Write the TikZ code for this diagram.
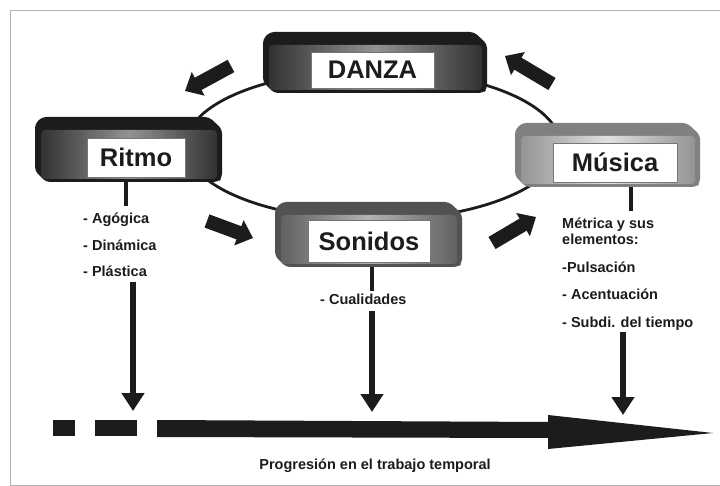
\documentclass[tikz,border=0pt]{standalone}
\usepackage{fontspec}
\setmainfont{Liberation Sans}
\usetikzlibrary{arrows.meta}
\definecolor{ink}{HTML}{1C1C1C}
\colorlet{bxtop}{black}
\colorlet{bxside}{black}
\colorlet{bxmid}{gray}
\newcommand\bevelbox[9]{%
  \fill[bxtop, rounded corners=4pt] (#2,#3+7) -- (#2,#5-11) -- (#2+11,#5) -- (#4-4,#5) -- (#4,#5-4) -- (#4,#3+12) -- (#4-13,#3) -- (#2+7,#3) -- cycle;
  \shade[rounded corners=4pt, left color=bxside, right color=bxside, middle color=bxmid] (#2+6,#3+13) rectangle (#4-5,#5-3);
  \node[boxlabel, minimum width={(#8-#6)*1pt}, minimum height={(#5-5-#7)*1pt}] (#1) at ({(#6+#8)/2},{(#7+#5-5)/2}) {#9};
}
\begin{document}
\begin{tikzpicture}[x=1pt,y=-1pt,
  boxlabel/.style={fill=white, draw=ink!60, line width=0.6pt, inner sep=0pt, text=ink,
    font=\fontsize{25.5}{30}\selectfont\bfseries},
  item/.style={anchor=base west, inner sep=0pt, text=ink, font=\fontsize{14.5}{17}\selectfont\bfseries},
  blockarrow/.style={draw=ink, line width=14pt, -{Triangle[width=26pt,length=15pt]}},
  downarrow/.style={draw=ink, line width=6pt, -{Triangle[width=22pt,length=18pt]}},
  stem/.style={draw=ink, line width=4.5pt},
  ring/.style={draw=ink, line width=2.8pt}]
\useasboundingbox (0,0) rectangle (720,486);
\clip (0,0) rectangle (720,486);
\fill[white] (0,0) rectangle (720,486);
% frame
\draw[gray!60, line width=1pt] (740,11) -- (10,11) -- (10,485) -- (740,485);
% ring
\draw[ring] (373,145) ellipse [x radius=187pt, y radius=75pt];
% boxes
\colorlet{bxtop}{ink}\colorlet{bxside}{ink!90}\colorlet{bxmid}{gray!85}
\bevelbox{danza}{263}{32}{487}{93}{311}{52}{434}{DANZA}
\bevelbox{ritmo}{35}{117}{222}{182}{87}{138}{185}{Ritmo}
\colorlet{bxtop}{black!68}\colorlet{bxside}{black!62}\colorlet{bxmid}{black!30}
\bevelbox{sonidos}{275}{202}{462}{267}{308}{220}{430}{Sonidos}
\colorlet{bxtop}{black!50}\colorlet{bxside}{black!42}\colorlet{bxmid}{black!12}
\bevelbox{musica}{515}{123}{700}{187}{553}{143}{677}{Música}
% cycle arrows
\coordinate (a1s) at (231,66);  \coordinate (a1e) at (185,91);
\coordinate (a2s) at (552,84);  \coordinate (a2e) at (505,56);
\coordinate (a3s) at (207,221); \coordinate (a3e) at (253,238);
\coordinate (a4s) at (492,243); \coordinate (a4e) at (536,217);
\draw[blockarrow] (a1s) -- (a1e);
\draw[blockarrow] (a2s) -- (a2e);
\draw[blockarrow] (a3s) -- (a3e);
\draw[blockarrow] (a4s) -- (a4e);
% Ritmo column
\coordinate (rs) at (126,182); \coordinate (re) at (126,206);
\draw[stem] (rs) -- (re);
\node[item] (r1) at (83,224) {- Agógica};
\node[item] (r2) at (83,250.5) {- Dinámica};
\node[item] (r3) at (83,277) {- Plástica};
\coordinate (rd1) at (133,282); \coordinate (rd2) at (133,411);
\draw[downarrow] (rd1) -- (rd2);
% Sonidos column
\coordinate (ss) at (372,267); \coordinate (se) at (372,291);
\draw[stem] (ss) -- (se);
\node[item] (s1) at (320,305) {- Cualidades};
\coordinate (sd1) at (372,311); \coordinate (sd2) at (372,412);
\draw[downarrow] (sd1) -- (sd2);
% Musica column
\coordinate (ms) at (631,187); \coordinate (me) at (631,211);
\draw[stem] (ms) -- (me);
\node[item] (m1) at (562,229) {Métrica y sus};
\node[item] (m2) at (562,245) {elementos:};
\node[item] (m3) at (562,273) {-Pulsación};
\node[item] (m4) at (562,300) {- Acentuación};
\node[item] (m5) at (562,327) {- Subdi. del tiempo};
\coordinate (md1) at (623,332); \coordinate (md2) at (623,415);
\draw[downarrow] (md1) -- (md2);
% time bar
\fill[ink] (53,420) rectangle (75,436);
\fill[ink] (95,420) rectangle (137,436);
\fill[ink] (157,420) -- (548,422) -- (548,415) -- (713,433) -- (548,449) -- (548,438) -- (157,437) -- cycle;
\node[item, anchor=base] (prog) at (375,469) {Progresión en el trabajo temporal};
\end{tikzpicture}
\end{document}
